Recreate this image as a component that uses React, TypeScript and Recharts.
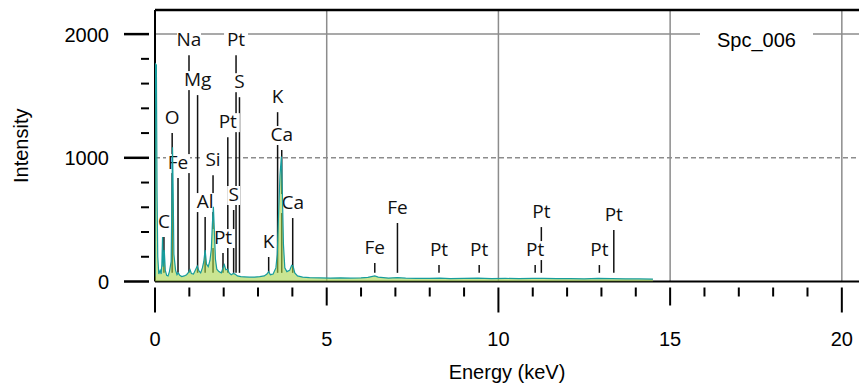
import { ComposedChart, Area, XAxis, YAxis, ReferenceLine, Legend } from 'recharts';

// EDS spectrum (energy in keV, counts)
const ENERGY = [
  0.0, 0.01, 0.04, 0.06, 0.08, 0.11, 0.15, 0.18, 0.2, 0.22, 0.24, 0.27, 0.3, 0.34, 0.38,
  0.42, 0.47, 0.49, 0.51, 0.53, 0.55, 0.6, 0.64, 0.68, 0.72, 0.78, 0.85, 0.92, 0.98, 1.02,
  1.06, 1.12, 1.18, 1.23, 1.28, 1.33, 1.38, 1.42, 1.46, 1.5, 1.55, 1.6, 1.64, 1.67, 1.7,
  1.73, 1.76, 1.8, 1.86, 1.93, 1.98, 2.02, 2.06, 2.11, 2.16, 2.22, 2.28, 2.33, 2.4, 2.5,
  2.6, 2.75, 2.9, 3.05, 3.18, 3.26, 3.31, 3.36, 3.44, 3.52, 3.56, 3.6, 3.64, 3.68, 3.71,
  3.74, 3.78, 3.84, 3.92, 3.98, 4.02, 4.07, 4.15, 4.3, 4.5, 4.8, 5.1, 5.4, 5.7, 6.0,
  6.2, 6.4, 6.5, 6.8, 7.06, 7.3, 7.6, 8.0, 8.3, 8.6, 9.0, 9.4, 9.8, 10.2, 10.6,
  11.0, 11.3, 11.7, 12.1, 12.5, 12.9, 13.3, 13.7, 14.1, 14.5,
];
const COUNTS = [
  40, 1760, 1750, 700, 200, 60, 90, 60, 140, 360, 120, 255, 90, 50, 45,
  80, 160, 620, 1085, 700, 220, 90, 55, 70, 50, 40, 45, 55, 75, 95,
  65, 60, 95, 125, 85, 70, 110, 160, 255, 140, 120, 170, 260, 460, 605,
  400, 180, 100, 80, 70, 110, 135, 95, 100, 70, 55, 65, 60, 45, 40,
  38, 35, 36, 40, 45, 60, 80, 55, 60, 110, 220, 560, 860, 1010, 700,
  300, 110, 80, 90, 130, 125, 70, 45, 35, 32, 30, 28, 30, 27, 30,
  34, 45, 36, 28, 32, 27, 26, 25, 28, 24, 25, 27, 24, 25, 23,
  26, 25, 23, 24, 22, 25, 23, 22, 21, 20,
];

// element markers
const MARKER_NAMES = [
  'C', 'O', 'Fe', 'Na', 'Mg', 'Al', 'Si', 'Pt', 'Pt', 'Pt', 'S', 'S',
  'K', 'K', 'Ca', 'Ca', 'Fe', 'Fe', 'Pt', 'Pt', 'Pt', 'Pt', 'Pt', 'Pt',
];
const MARKER_KEV = [
  0.26, 0.5, 0.67, 0.99, 1.24, 1.46, 1.69, 1.98, 2.12, 2.36, 2.29, 2.46,
  3.31, 3.57, 3.69, 4.01, 6.4, 7.06, 8.27, 9.44, 11.07, 11.25, 12.94, 13.36,
];
const MARKER_TOP = [
  360, 1200, 836, 1830, 1507, 521, 860, 230, 1167, 1830, 578, 1490,
  198, 1369, 1063, 513, 150, 473, 133, 133, 133, 440, 133, 416,
];
const MARKER_BASE = 70;

const X_TICKS = [0, 1, 2, 3, 4, 5, 6, 7, 8, 9, 10, 11, 12, 13, 14, 15, 16, 17, 18, 19, 20];
const Y_TICKS = [0, 200, 400, 600, 800, 1000, 1200, 1400, 1600, 1800, 2000];
const X_GRID = [5, 10, 15, 20];
const SERIES_NAME = 'Spc_006';

const Y_MAX = 2195;
const FONT = '"Liberation Sans", Arial, sans-serif';
const GRID = '#8c8c8c';

const spectrum = ENERGY.map((e, i) => ({ e, c: COUNTS[i] }));

const XTick = ({ x, y, payload }: any) => {
  const v = payload.value;
  const len = v % 10 === 0 ? 25 : v % 5 === 0 ? 18 : 9;
  return (
    <g>
      <line x1={x} y1={y} x2={x} y2={y + len} stroke="#000" strokeWidth={2} />
      {v % 5 === 0 && (
        <text x={x} y={y + 58} textAnchor="middle" fontSize={20} fontFamily={FONT} fill="#000">
          {v}
        </text>
      )}
    </g>
  );
};

const YTick = ({ x, y, payload }: any) => {
  const v = payload.value;
  const major = v % 1000 === 0;
  return (
    <g>
      <line x1={x - (major ? 25 : 8)} y1={y} x2={x} y2={y} stroke="#000" strokeWidth={major ? 2.5 : 2} />
      {major && (
        <text x={x - 40} y={y + 7.5} textAnchor="end" fontSize={20} fontFamily={FONT} fill="#000">
          {v}
        </text>
      )}
    </g>
  );
};

// element name sitting on a white box above its marker line
const markerLabel = (name: string) => ({ viewBox }: any) => {
  if (!viewBox) return null;
  const cx = viewBox.x + (viewBox.width || 0) / 2;
  const base = viewBox.y - 9;
  const w = name.length * 11 + 2;
  return (
    <g>
      <rect x={cx - w / 2} y={base - 15} width={w} height={19} fill="#fff" />
      <text x={cx} y={base} textAnchor="middle" fontSize={19} fontFamily='"Open Sans", sans-serif' fill="#111">
        {name}
      </text>
    </g>
  );
};

const LegendBox = () => (
  <div
    style={{
      background: '#fff',
      height: 30,
      lineHeight: '30px',
      textAlign: 'center',
      fontSize: 20,
      fontFamily: FONT,
      color: '#000',
    }}
  >
    {SERIES_NAME}
  </div>
);

export default function App() {
  return (
    <div style={{ position: 'absolute', left: 0, top: 0, width: 859, height: 385, background: '#fff' }}>
      <ComposedChart width={859} height={385} data={spectrum} margin={{ top: 10, right: 0, bottom: 0, left: 0 }}>
        <XAxis
          type="number"
          dataKey="e"
          domain={[0, 20.5]}
          ticks={X_TICKS}
          interval={0}
          height={103.5}
          tickLine={false}
          tickMargin={0}
          tick={<XTick />}
          axisLine={{ stroke: '#000', strokeWidth: 2 }}
          allowDataOverflow
          label={{
            content: ({ viewBox }: any) => (
              <text
                x={viewBox.x + viewBox.width / 2}
                y={379}
                textAnchor="middle"
                fontSize={20}
                fontFamily={FONT}
                fill="#000"
              >
                Energy (keV)
              </text>
            ),
          }}
        />
        <YAxis
          type="number"
          domain={[0, Y_MAX]}
          ticks={Y_TICKS}
          interval={0}
          width={155}
          tickLine={false}
          tickMargin={0}
          tick={<YTick />}
          axisLine={{ stroke: '#000', strokeWidth: 2 }}
          allowDataOverflow
          label={{
            content: ({ viewBox }: any) => (
              <text
                x={21}
                y={viewBox.y + viewBox.height / 2}
                transform={`rotate(-90 21 ${viewBox.y + viewBox.height / 2})`}
                textAnchor="middle"
                dominantBaseline="central"
                fontSize={20}
                fontFamily={FONT}
                fill="#000"
              >
                Intensity
              </text>
            ),
          }}
        />

        {X_GRID.map((g) => (
          <ReferenceLine key={`gx-${g}`} x={g} stroke={GRID} strokeWidth={1.5} />
        ))}
        <ReferenceLine y={1000} stroke={GRID} strokeWidth={1.5} strokeDasharray="5 3" />
        <ReferenceLine y={2000} stroke={GRID} strokeWidth={1.5} />
        <ReferenceLine y={Y_MAX} stroke="#000" strokeWidth={2.5} />

        {MARKER_KEV.map((k, i) => (
          <ReferenceLine
            key={`ml-${i}`}
            segment={[
              { x: k, y: MARKER_TOP[i] },
              { x: k, y: MARKER_BASE },
            ]}
            stroke="#111"
            strokeWidth={1.5}
          />
        ))}
        {MARKER_KEV.map((k, i) => (
          <ReferenceLine
            key={`mt-${i}`}
            segment={[
              { x: k, y: MARKER_TOP[i] },
              { x: k, y: MARKER_BASE },
            ]}
            stroke="none"
            label={{ content: markerLabel(MARKER_NAMES[i]) }}
          />
        ))}

        <Area
          type="linear"
          dataKey="c"
          name={SERIES_NAME}
          stroke="#179c9c"
          strokeWidth={1.2}
          fill="#a6d34a"
          fillOpacity={0.6}
          dot={false}
          activeDot={false}
          isAnimationActive={false}
          zIndex={2500}
        />

        <Legend
          layout="vertical"
          align="center"
          verticalAlign="middle"
          wrapperStyle={{ left: 700, top: 25, width: 113, height: 30 }}
          content={<LegendBox />}
        />
      </ComposedChart>
    </div>
  );
}
